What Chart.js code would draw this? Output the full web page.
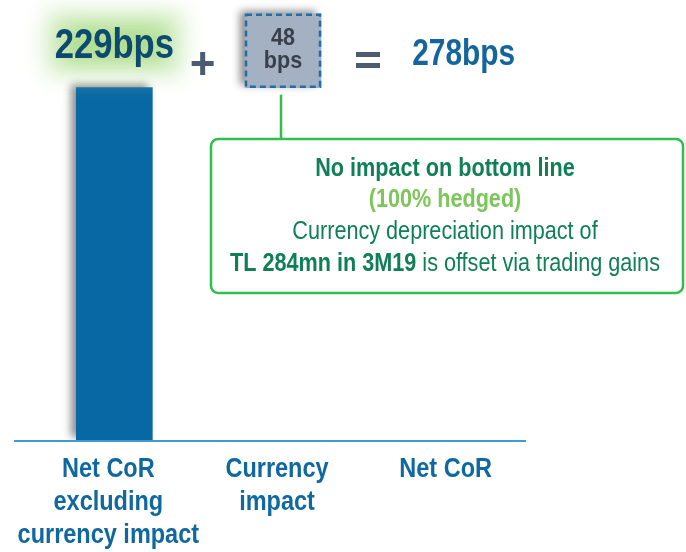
<!DOCTYPE html>
<html>
<head>
<meta charset="utf-8">
<script src="https://cdn.jsdelivr.net/npm/chart.js@4"></script>
<style>
  html, body { margin: 0; padding: 0; background: #fff; }
  #wrap { width: 686px; height: 552px; position: relative; }
</style>
</head>
<body>
<div id="wrap"><canvas id="myChart" width="686" height="552"></canvas></div>
<script>
// data
const categories = [
    ['Net CoR', 'excluding', 'currency impact'],
    ['Currency', 'impact'],
    ['Net CoR']
];
const barStart = [0, 229, 0];     // floating bars: start value
const barEnd = [229, 277, 278];   // end value (bps)
const valueLabels = ['229bps', '48|bps', '278bps'];
const calloutLines = [
    'No impact on bottom line',
    '(100% hedged)',
    'Currency depreciation impact of',
    'TL 284mn in 3M19| is offset via trading gains'
];

const FONT = "'Liberation Sans', Arial, sans-serif";
const BLUE = '#0868a3';
const GREEN_LINE = '#2fbf4f';
const DARK_GREEN = '#0f7f55';
const LIGHT_GREEN = '#7cc65a';

// no narrow font installed, so squeeze the text horizontally
function narrowText(ctx, text, x, y, squeeze) {
    ctx.save();
    ctx.translate(x, y);
    ctx.scale(squeeze, 1);
    ctx.fillText(text, 0, 0);
    ctx.restore();
}

// extra drawing: shadow, dashed box, labels, callout
const decorPlugin = {
    id: 'decor',
    beforeDatasetsDraw(chart) {
        const ctx = chart.ctx;
        ctx.save();
        ctx.shadowColor = 'rgba(0,0,0,0.45)';
        ctx.shadowBlur = 8;
        ctx.shadowOffsetX = -5;
        ctx.shadowOffsetY = -3;
    },
    afterDatasetsDraw(chart) {
        const ctx = chart.ctx;
        ctx.restore();
        const meta = chart.getDatasetMeta(0);
        const y = chart.scales.y;
        const x = chart.scales.x;
        const bars = meta.data;

        // base line
        const base = y.getPixelForValue(0);
        ctx.save();
        ctx.strokeStyle = '#3f9bd6';
        ctx.lineWidth = 2;
        ctx.beginPath();
        ctx.moveTo(14, base + 1);
        ctx.lineTo(526, base + 1);
        ctx.stroke();
        ctx.restore();

        // category labels
        ctx.save();
        ctx.fillStyle = '#0f68a0';
        ctx.font = 'bold 27px ' + FONT;
        ctx.textAlign = 'center';
        categories.forEach((lines, i) => {
            const px = x.getPixelForTick(i) - 6;
            lines.forEach((t, j) => narrowText(ctx, t, px, base + 37 + j * 33, 0.87));
        });
        ctx.restore();

        // dashed outline on the currency box
        const b = bars[1];
        ctx.save();
        ctx.strokeStyle = '#1f6ea8';
        ctx.lineWidth = 2.5;
        ctx.setLineDash([6, 4]);
        ctx.strokeRect(b.x - b.width / 2 + 1, b.y + 1, b.width - 2, b.base - b.y - 2);
        ctx.restore();

        // soft glow behind 229bps (shadow only, the rect itself is off canvas)
        const b0 = bars[0];
        ctx.save();
        ctx.shadowOffsetX = 2000;
        ctx.fillStyle = '#000';
        ctx.shadowColor = 'rgba(205,235,185,0.9)';
        ctx.shadowBlur = 22;
        ctx.fillRect(b0.x - 68 - 2000, 12, 136, 62);
        ctx.shadowColor = 'rgba(150,212,105,0.55)';
        ctx.shadowBlur = 20;
        ctx.fillRect(b0.x - 50 - 2000, 26, 100, 36);
        ctx.restore();

        ctx.save();
        ctx.textAlign = 'center';
        ctx.textBaseline = 'alphabetic';
        ctx.fillStyle = '#0d4a70';
        ctx.font = 'bold 42px ' + FONT;
        narrowText(ctx, valueLabels[0], b0.x, 58, 0.825);

        // 48 bps inside the box
        const parts = valueLabels[1].split('|');
        ctx.fillStyle = '#3a404b';
        ctx.font = 'bold 24px ' + FONT;
        narrowText(ctx, parts[0], b.x, 45, 0.9);
        narrowText(ctx, parts[1], b.x, 68, 0.9);

        // total
        ctx.fillStyle = '#15659d';
        ctx.font = 'bold 36px ' + FONT;
        narrowText(ctx, valueLabels[2], bars[2].x + 12, 65, 0.83);

        // + and =
        ctx.fillStyle = '#4d5a70';
        const plusX = (b0.x + b0.width / 2 + b.x - b.width / 2) / 2 + 4;
        ctx.fillRect(plusX - 11, 61, 22, 5);
        ctx.fillRect(plusX - 2.5, 52, 5, 23);
        const eqX = 368;
        ctx.fillRect(eqX - 12, 52, 24, 5);
        ctx.fillRect(eqX - 12, 63, 24, 5);
        ctx.restore();

        // callout
        const bx = 211, by = 139, bw = 472, bh = 154;
        ctx.save();
        ctx.strokeStyle = GREEN_LINE;
        ctx.lineWidth = 2.5;
        ctx.beginPath();
        ctx.moveTo(b.x - 2, b.base + 7);
        ctx.lineTo(b.x - 2, by);
        ctx.stroke();
        ctx.beginPath();
        ctx.roundRect(bx, by, bw, bh, 7);
        ctx.stroke();

        const cx = bx + bw / 2 - 2;
        const sq = 0.865;
        ctx.textAlign = 'center';
        ctx.textBaseline = 'alphabetic';
        ctx.fillStyle = DARK_GREEN;
        ctx.font = 'bold 25px ' + FONT;
        narrowText(ctx, calloutLines[0], cx, 176, sq);
        ctx.fillStyle = LIGHT_GREEN;
        narrowText(ctx, calloutLines[1], cx, 207, sq);
        ctx.fillStyle = DARK_GREEN;
        ctx.font = '25px ' + FONT;
        narrowText(ctx, calloutLines[2], cx, 239, sq);

        const seg = calloutLines[3].split('|');
        ctx.font = 'bold 25px ' + FONT;
        const w1 = ctx.measureText(seg[0]).width * sq;
        ctx.font = '25px ' + FONT;
        const w2 = ctx.measureText(seg[1]).width * sq;
        const sx = cx - (w1 + w2) / 2;
        ctx.textAlign = 'left';
        ctx.font = 'bold 25px ' + FONT;
        narrowText(ctx, seg[0], sx, 271, sq);
        ctx.font = '25px ' + FONT;
        narrowText(ctx, seg[1], sx + w1, 271, sq);
        ctx.restore();
    }
};

const ctx = document.getElementById('myChart').getContext('2d');
window.myChart = new Chart(ctx, {
    type: 'bar',
    data: {
        labels: categories,
        datasets: [{
            data: barStart.map((s, i) => [s, barEnd[i]]),
            backgroundColor: [BLUE, '#a3b1c3', 'rgba(0,0,0,0)'],
            borderWidth: 0,
            borderSkipped: false,
            barThickness: 76
        }]
    },
    options: {
        responsive: false,
        animation: false,
        layout: { padding: { left: 30, right: 150, top: 0, bottom: 0 } },
        plugins: {
            legend: { display: false },
            tooltip: { enabled: false }
        },
        scales: {
            x: {
                grid: { display: false, drawTicks: false },
                border: { display: false },
                afterFit: (scale) => { scale.height = 112; },
                ticks: { display: false }
            },
            y: {
                display: false,
                min: 0,
                max: 286
            }
        }
    },
    plugins: [decorPlugin]
});
</script>
</body>
</html>
